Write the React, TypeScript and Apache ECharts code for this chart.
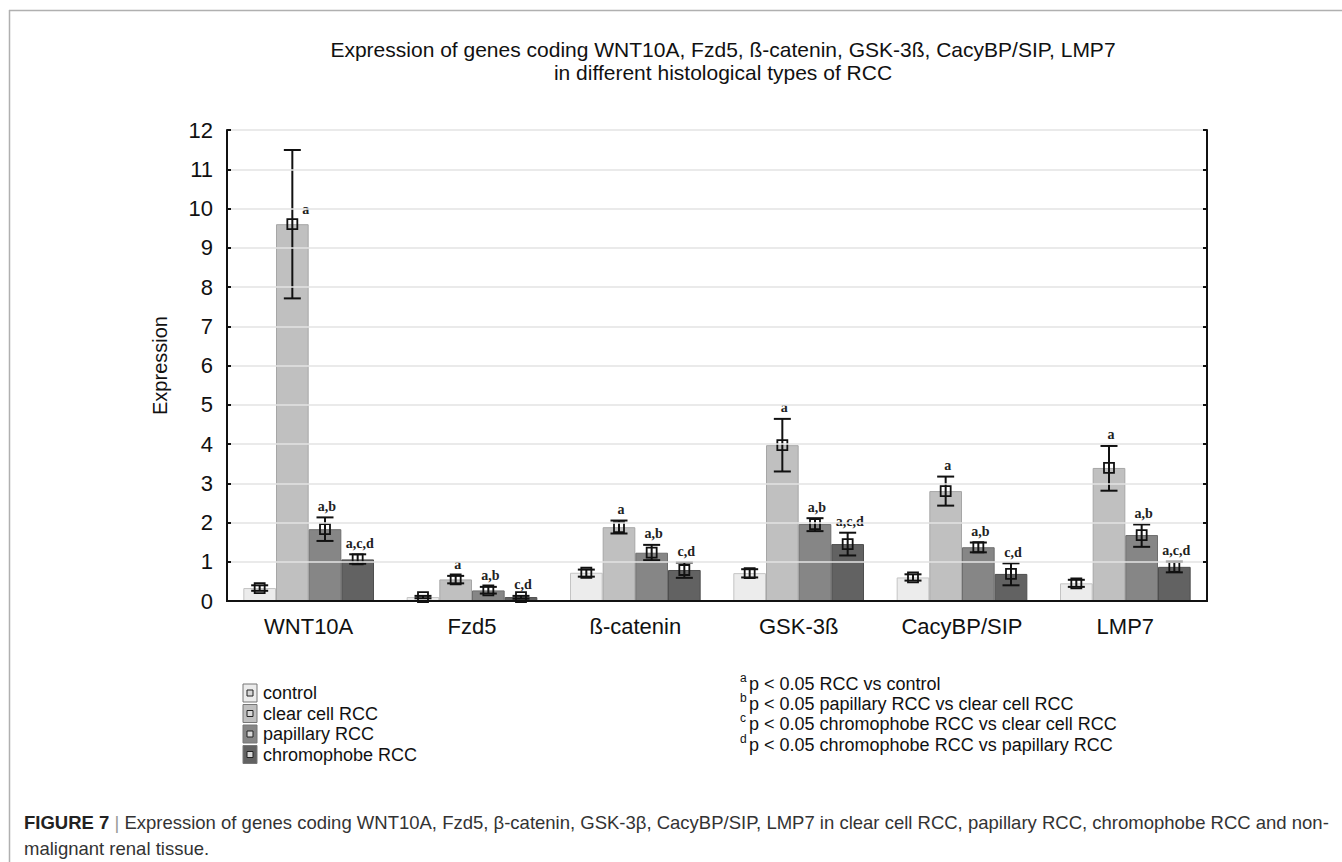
import React, { useEffect, useRef } from "react";
import * as echarts from "echarts";

const categories = ["WNT10A", "Fzd5", "ß-catenin", "GSK-3ß", "CacyBP/SIP", "LMP7"];
const groups = ["control", "clear cell RCC", "papillary RCC", "chromophobe RCC"];

const controlMean = [0.33, 0.1, 0.72, 0.71, 0.6, 0.45];
const controlLow = [0.26, 0.07, 0.62, 0.6, 0.52, 0.36];
const controlHigh = [0.4, 0.13, 0.8, 0.81, 0.68, 0.54];

const clearMean = [9.6, 0.55, 1.88, 3.97, 2.8, 3.39];
const clearLow = [7.71, 0.45, 1.72, 3.3, 2.43, 2.81];
const clearHigh = [11.49, 0.64, 2.05, 4.64, 3.17, 3.95];

const papMean = [1.83, 0.27, 1.23, 1.96, 1.37, 1.68];
const papLow = [1.53, 0.19, 1.04, 1.78, 1.24, 1.38];
const papHigh = [2.13, 0.36, 1.43, 2.11, 1.49, 1.95];

const chrMean = [1.06, 0.1, 0.79, 1.45, 0.69, 0.87];
const chrLow = [0.95, 0.06, 0.59, 1.16, 0.4, 0.73];
const chrHigh = [1.19, 0.13, 0.98, 1.74, 0.96, 1.0];

const controlSig = ["", "", "", "", "", ""];
const clearSig = ["a", "a", "a", "a", "a", "a"];
const papSig = ["a,b", "a,b", "a,b", "a,b", "a,b", "a,b"];
const chrSig = ["a,c,d", "c,d", "c,d", "a,c,d", "c,d", "a,c,d"];

const footLetters = ["a", "b", "c", "d"];
const footTexts = [
  "p < 0.05 RCC vs control",
  "p < 0.05 papillary RCC vs clear cell RCC",
  "p < 0.05 chromophobe RCC vs clear cell RCC",
  "p < 0.05 chromophobe RCC vs papillary RCC",
];

const yTicks = [0, 12, 1];

const fills = ["#ececec", "#c0c0c0", "#868686", "#626262"];
const borders = ["#c4c4c4", "#a6a6a6", "#6e6e6e", "#4e4e4e"];

const means = [controlMean, clearMean, papMean, chrMean];
const lows = [controlLow, clearLow, papLow, chrLow];
const highs = [controlHigh, clearHigh, papHigh, chrHigh];
const sigs = [controlSig, clearSig, papSig, chrSig];

const FONT = "Liberation Sans, Arial, sans-serif";

export default function App() {
  const ref = useRef<HTMLDivElement>(null);
  useEffect(() => {
    if (!ref.current) return;
    const chart = echarts.init(ref.current, null, { renderer: "svg" });

    const barSeries = groups.map((g, k) => ({
      name: g,
      type: "bar",
      data: means[k],
      barGap: "0%",
      barCategoryGap: "20%",
      itemStyle: { color: fills[k], borderColor: borders[k], borderWidth: 1 },
      z: 2,
    }));

    const errSeries = groups.map((g, k) => ({
      name: g + " err",
      type: "custom",
      z: 5,
      encode: { x: 0, y: [1, 2, 3] },
      data: categories.map((_, i) => [i, means[k][i], lows[k][i], highs[k][i]]),
      renderItem: (params: any, api: any) => {
        const ci = api.value(0);
        const band = api.size([1, 0])[0];
        const bw = (band * 0.8) / 4;
        const cx = api.coord([ci, 0])[0] - band * 0.4 + bw * (k + 0.5);
        const yM = api.coord([ci, api.value(1)])[1];
        const yL = api.coord([ci, api.value(2)])[1];
        const yH = api.coord([ci, api.value(3)])[1];
        const topY = api.coord([ci, 12])[1];
        const cap = 8.5;
        const st = { stroke: "#111", lineWidth: 2 };
        const children: any[] = [
          { type: "line", shape: { x1: cx, y1: yL, x2: cx, y2: yH }, style: st },
          { type: "line", shape: { x1: cx - cap, y1: yL, x2: cx + cap, y2: yL }, style: st },
          { type: "line", shape: { x1: cx - cap, y1: yH, x2: cx + cap, y2: yH }, style: st },
          {
            type: "rect",
            shape: { x: cx - 5, y: yM - 5, width: 10, height: 10 },
            style: { fill: "none", stroke: "#111", lineWidth: 1.8 },
          },
        ];
        const lab = sigs[k][params.dataIndex];
        if (lab) {
          const nearTop = yH - topY < 40;
          children.push({
            type: "text",
            x: nearTop ? cx + 10 : cx + 2,
            y: nearTop ? yM - 8 : yH - 4,
            style: {
              text: lab,
              font: "bold 14px Liberation Serif, Times New Roman, serif",
              fill: "#222",
              align: nearTop ? "left" : "center",
              verticalAlign: "bottom",
            },
          });
        }
        return { type: "group", children };
      },
    }));

    const legendEls: any[] = [];
    groups.forEach((g, i) => {
      const cy = 693 + i * 20.5;
      legendEls.push({
        type: "rect",
        shape: { x: 243, y: cy - 9, width: 14, height: 18 },
        style: { fill: fills[i], stroke: "#777", lineWidth: 1 },
      });
      legendEls.push({
        type: "rect",
        shape: { x: 247, y: cy - 3, width: 6, height: 6 },
        style: { fill: "#d8d8d8", stroke: "#222", lineWidth: 1 },
      });
      legendEls.push({
        type: "text",
        x: 263,
        y: cy,
        style: { text: g, font: `18px ${FONT}`, fill: "#111", verticalAlign: "middle" },
      });
    });

    const footEls: any[] = [];
    footLetters.forEach((l, i) => {
      const cy = 684 + i * 20.2;
      footEls.push({
        type: "text",
        x: 740,
        y: cy - 6,
        style: { text: l, font: `12px ${FONT}`, fill: "#111", verticalAlign: "middle" },
      });
      footEls.push({
        type: "text",
        x: 749,
        y: cy,
        style: { text: footTexts[i], font: `18px ${FONT}`, fill: "#111", verticalAlign: "middle" },
      });
    });

    chart.setOption({
      animation: false,
      backgroundColor: "#ffffff",
      title: {
        text: "Expression of genes coding WNT10A, Fzd5, ß-catenin, GSK-3ß, CacyBP/SIP, LMP7\nin different histological types of RCC",
        left: 718,
        top: 33,
        textAlign: "center",
        textStyle: { fontFamily: FONT, fontSize: 21, fontWeight: "normal", color: "#111", lineHeight: 23 },
      },
      grid: { left: 227, right: 135, top: 130, bottom: 261 },
      xAxis: [
        {
          type: "category",
          data: categories,
          position: "bottom",
          axisLine: { lineStyle: { color: "#111", width: 2 } },
          axisTick: { alignWithLabel: true, inside: true, length: 6, lineStyle: { color: "#111", width: 2 } },
          axisLabel: { fontFamily: FONT, fontSize: 22, color: "#111", margin: 14 },
          z: 10,
        },
        {
          type: "category",
          data: categories,
          position: "top",
          axisLine: { lineStyle: { color: "#111", width: 2 } },
          axisTick: { alignWithLabel: true, inside: true, length: 6, lineStyle: { color: "#111", width: 2 } },
          axisLabel: { show: false },
          z: 10,
        },
      ],
      yAxis: [
        {
          type: "value",
          min: yTicks[0],
          max: yTicks[1],
          interval: yTicks[2],
          position: "left",
          name: "Expression",
          nameLocation: "middle",
          nameGap: 57,
          nameTextStyle: { fontFamily: FONT, fontSize: 20, color: "#111" },
          axisLine: { show: true, lineStyle: { color: "#111", width: 2 } },
          axisTick: { show: true, inside: true, length: 4, lineStyle: { color: "#111", width: 2 } },
          axisLabel: { fontFamily: FONT, fontSize: 22, color: "#111", margin: 14 },
          splitLine: { lineStyle: { color: "#e3e3e3", width: 1.5 } },
          z: 10,
        },
        {
          type: "value",
          min: yTicks[0],
          max: yTicks[1],
          interval: yTicks[2],
          position: "right",
          axisLine: { show: true, lineStyle: { color: "#111", width: 2 } },
          axisTick: { show: true, inside: true, length: 4, lineStyle: { color: "#111", width: 2 } },
          axisLabel: { show: false },
          splitLine: { show: false },
          z: 10,
        },
      ],
      series: [...barSeries, ...errSeries],
      graphic: [
        { type: "line", shape: { x1: 9, y1: 10.5, x2: 1342, y2: 10.5 }, style: { stroke: "#b0b0b0", lineWidth: 1.5 } },
        { type: "line", shape: { x1: 9.5, y1: 10, x2: 9.5, y2: 862 }, style: { stroke: "#b0b0b0", lineWidth: 1.5 } },
        ...legendEls,
        ...footEls,
        {
          type: "text",
          x: 24,
          y: 822,
          style: {
            text: "{b|FIGURE 7} {s||} Expression of genes coding WNT10A, Fzd5, β-catenin, GSK-3β, CacyBP/SIP, LMP7 in clear cell RCC, papillary RCC, chromophobe RCC and non-",
            font: `18.5px ${FONT}`,
            fill: "#333",
            verticalAlign: "middle",
            rich: {
              b: { font: `bold 18.5px ${FONT}`, fill: "#222" },
              s: { font: `18.5px ${FONT}`, fill: "#999" },
            },
          },
        },
        {
          type: "text",
          x: 24,
          y: 848,
          style: { text: "malignant renal tissue.", font: `18.5px ${FONT}`, fill: "#333", verticalAlign: "middle" },
        },
      ],
    });
    return () => chart.dispose();
  }, []);
  return <div ref={ref} style={{ position: "fixed", left: 0, top: 0, width: 1342, height: 862 }} />;
}
